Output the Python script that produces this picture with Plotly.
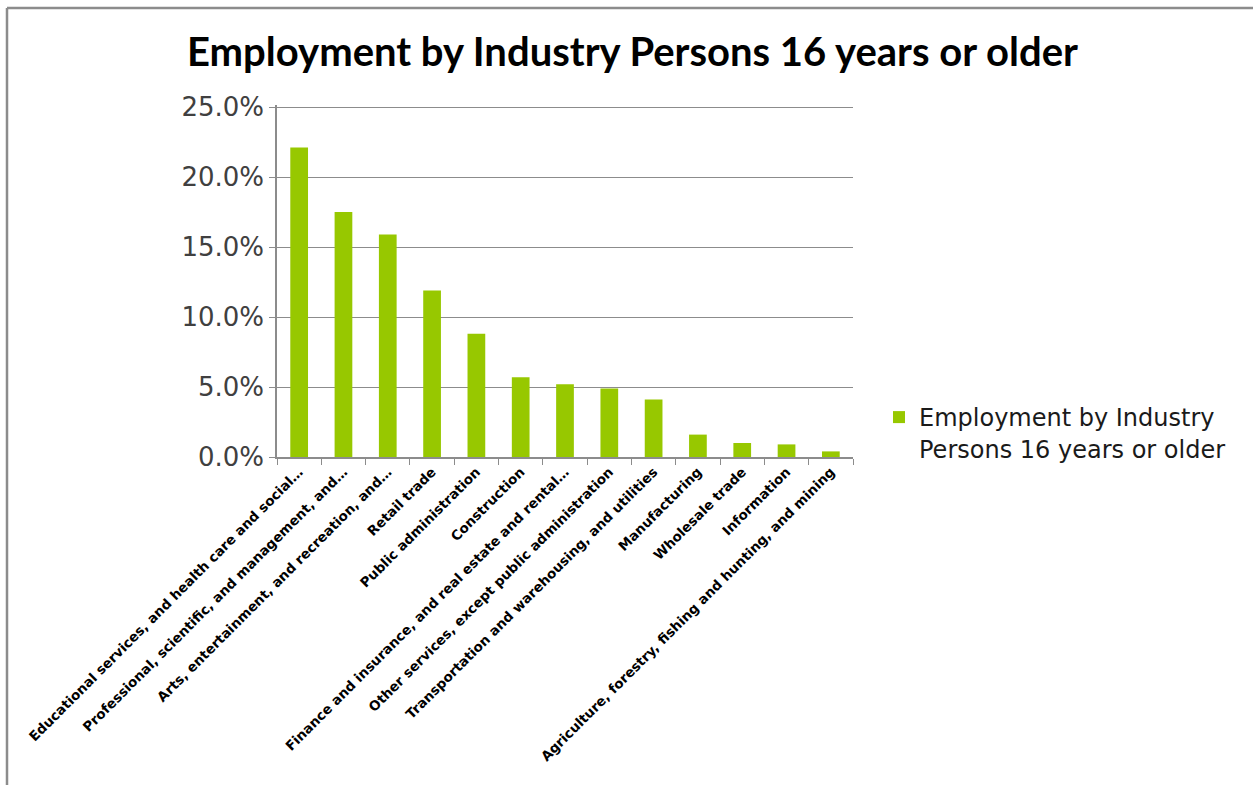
import plotly.graph_objects as go

# Share of employed persons (16+) by industry, sorted high to low
industries = [
    "Educational services, and health care and social…",
    "Professional, scientific, and management, and…",
    "Arts, entertainment, and recreation, and…",
    "Retail trade",
    "Public administration",
    "Construction",
    "Finance and insurance, and real estate and rental…",
    "Other services, except public administration",
    "Transportation and warehousing, and utilities",
    "Manufacturing",
    "Wholesale trade",
    "Information",
    "Agriculture, forestry, fishing and hunting, and mining",
]
shares = [0.221, 0.175, 0.159, 0.119, 0.088, 0.057, 0.052, 0.049, 0.041, 0.016, 0.010, 0.009, 0.004]
y_ticks = [0.0, 0.05, 0.10, 0.15, 0.20, 0.25]
series_name = "Employment by Industry<br>Persons 16 years or older"

W, H = 1253, 785
# plot area: 0% at y=457, 25% at y=107; two spare pixels on top keep the 25% grid line visible
L, R, T, B = 277, W - 853, 105, H - 457
PW, PH = W - L - R, H - T - B
y_top = 0.25 * PH / (PH - 2)


def px_x(x):
    return (x - L) / PW


def px_y(y):
    return (H - B - y) / PH


fig = go.Figure(
    go.Bar(
        x=industries,
        y=shares,
        name=series_name,
        marker=dict(color="#97C800", line=dict(width=0)),
        showlegend=True,
    )
)

fig.update_layout(
    width=W,
    height=H,
    margin=dict(l=L, r=R, t=T, b=B, autoexpand=False),
    paper_bgcolor="white",
    plot_bgcolor="white",
    bargap=0.6,
    title=dict(
        text="<b>Employment by Industry Persons 16 years or older</b>",
        x=632.5 / W,
        xref="container",
        xanchor="center",
        y=1 - 52 / H,
        yanchor="middle",
        font=dict(family="Lato", size=40, color="black"),
    ),
    xaxis=dict(
        type="category",
        tickangle=-45,
        tickson="boundaries",
        ticks="outside",
        ticklen=6,
        tickcolor="#8c8c8c",
        showline=True,
        linecolor="#8c8c8c",
        linewidth=1.5,
        showgrid=False,
        tickfont=dict(family="DejaVu Sans", size=13.5, color="black", weight="bold"),
    ),
    yaxis=dict(
        range=[0, y_top],
        tickvals=y_ticks,
        tickformat=".1%",
        ticks="outside",
        ticklen=6,
        tickcolor="#8c8c8c",
        showline=True,
        linecolor="#8c8c8c",
        linewidth=1.5,
        showgrid=True,
        gridcolor="#8c8c8c",
        gridwidth=1.2,
        zeroline=False,
        tickfont=dict(family="DejaVu Sans", size=26, color="#404040"),
    ),
    legend=dict(
        x=px_x(879),
        y=px_y(433),
        xanchor="left",
        yanchor="middle",
        valign="top",
        font=dict(family="DejaVu Sans", size=24, color="#1a1a1a"),
        itemsizing="constant",
        bgcolor="rgba(0,0,0,0)",
    ),
    shapes=[
        # outer chart frame (top and left edges)
        dict(type="line", xref="paper", yref="paper",
             x0=px_x(7), x1=px_x(W + 5), y0=px_y(8), y1=px_y(8),
             line=dict(color="#8c8c8c", width=2.5)),
        dict(type="line", xref="paper", yref="paper",
             x0=px_x(7), x1=px_x(7), y0=px_y(8), y1=px_y(H + 5),
             line=dict(color="#8c8c8c", width=2.5)),
    ],
)

fig.write_html("out.html")
